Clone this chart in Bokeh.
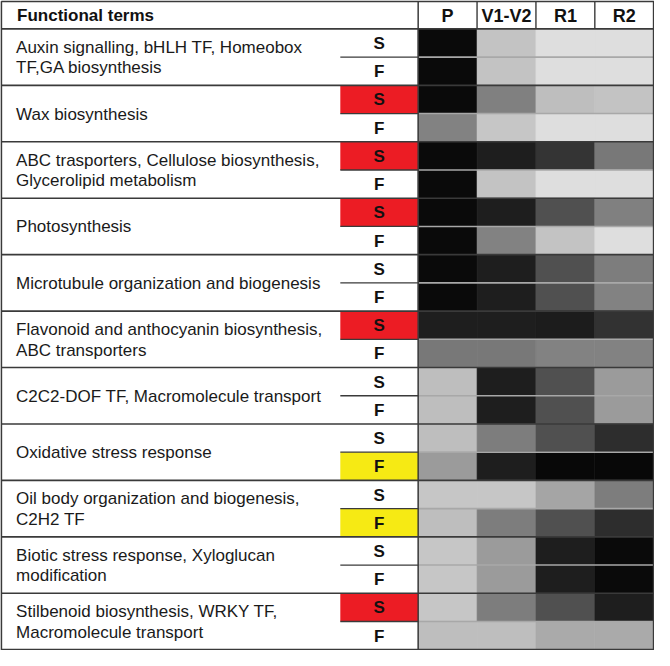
from bokeh.plotting import figure
from bokeh.models import ColumnDataSource, LinearColorMapper, Range1d
from bokeh.core.properties import value
from bokeh.embed import file_html
from bokeh.resources import INLINE

# ---------------- data ----------------
terms = [
    "Auxin signalling, bHLH TF, Homeobox\nTF,GA biosynthesis",
    "Wax biosynthesis",
    "ABC trasporters, Cellulose biosynthesis,\nGlycerolipid metabolism",
    "Photosynthesis",
    "Microtubule organization and biogenesis",
    "Flavonoid and anthocyanin biosynthesis,\nABC transporters",
    "C2C2-DOF TF, Macromolecule transport",
    "Oxidative stress response",
    "Oil body organization and biogenesis,\nC2H2 TF",
    "Biotic stress response, Xyloglucan\nmodification",
    "Stilbenoid biosynthesis, WRKY TF,\nMacromolecule transport",
]
stages = ["P", "V1-V2", "R1", "R2"]
tissues = ["S", "F"]
header_title = "Functional terms"

# highlight of the S / F label cells
s_mark = ["none", "red", "red", "red", "none", "red", "none", "none", "none", "none", "red"]
f_mark = ["none", "none", "none", "none", "none", "none", "none", "yellow", "yellow", "none", "none"]

# grey level of each cell (0 = black, 255 = white)
S_P  = [10, 10, 10, 10, 10, 30, 190, 190, 198, 198, 198]
S_V  = [195, 128, 30, 30, 30, 30, 30, 125, 198, 155, 125]
S_R1 = [222, 190, 52, 80, 80, 28, 80, 80, 165, 30, 80]
S_R2 = [222, 195, 120, 128, 125, 50, 155, 45, 125, 10, 30]
F_P  = [10, 130, 10, 10, 10, 120, 190, 155, 190, 198, 190]
F_V  = [195, 198, 195, 130, 30, 120, 30, 30, 125, 155, 190]
F_R1 = [222, 222, 222, 195, 80, 130, 80, 8, 80, 30, 170]
F_R2 = [222, 222, 222, 222, 130, 130, 155, 8, 45, 10, 170]

S_vals = [S_P, S_V, S_R1, S_R2]
F_vals = [F_P, F_V, F_R1, F_R2]

# ---------------- layout (reference pixel units) ----------------
X_LEFT, X_SF, X_HEAT, X_RIGHT = 3.0, 347.0, 426.0, 665.0
Y_TOP, Y_HEAD = 4.0, 32.0
N = len(terms)
GROUP_H = 57.2
COL_W = (X_RIGHT - X_HEAT) / len(stages)
Y_BOT = Y_HEAD + N * GROUP_H
FONT = value("Liberation Sans")
LINE = "#3a3a3a"
mark_colors = {"none": "#ffffff", "red": "#ec1c24", "yellow": "#f6ea14"}

p = figure(width=654, height=650, output_backend="svg", toolbar_location=None,
           x_range=Range1d(X_LEFT - 0.8, X_RIGHT + 0.8),
           y_range=Range1d(Y_BOT + 0.8, Y_TOP - 0.8),
           min_border=0, min_border_left=0, min_border_right=0,
           min_border_top=0, min_border_bottom=0)
p.axis.visible = False
p.grid.visible = False
p.outline_line_color = None
p.background_fill_color = "white"
p.border_fill_color = "white"

# ---- heatmap cells ----
left, right, top, bottom, v = [], [], [], [], []
for g in range(N):
    gt = Y_HEAD + g * GROUP_H
    for t, vals in enumerate([S_vals, F_vals]):
        for j in range(len(stages)):
            left.append(X_HEAT + j * COL_W)
            right.append(X_HEAT + (j + 1) * COL_W)
            top.append(gt + t * GROUP_H / 2)
            bottom.append(gt + (t + 1) * GROUP_H / 2)
            v.append(vals[j][g])
greys = ["#%02x%02x%02x" % (i, i, i) for i in range(256)]
mapper = LinearColorMapper(palette=greys, low=0, high=255)
src = ColumnDataSource(dict(left=left, right=right, top=top, bottom=bottom, v=v))
p.quad(left="left", right="right", top="top", bottom="bottom", source=src,
       fill_color={"field": "v", "transform": mapper},
       line_color={"field": "v", "transform": mapper}, line_width=0.6)

# ---- S / F label cells ----
ml, mr, mt, mb, mc = [], [], [], [], []
for g in range(N):
    gt = Y_HEAD + g * GROUP_H
    for t, marks in enumerate([s_mark, f_mark]):
        if marks[g] != "none":
            ml.append(X_SF); mr.append(X_HEAT)
            mt.append(gt + t * GROUP_H / 2); mb.append(gt + (t + 1) * GROUP_H / 2)
            mc.append(mark_colors[marks[g]])
p.quad(left=ml, right=mr, top=mt, bottom=mb, fill_color=mc, line_color=None)

# ---- lines ----
xs, ys = [], []
for g in range(N):
    ym = Y_HEAD + g * GROUP_H + GROUP_H / 2
    xs.append([X_HEAT, X_RIGHT]); ys.append([ym, ym])
p.multi_line(xs, ys, line_color="#a8a8a8", line_width=1.6)
xs, ys = [], []
for g in range(N):
    ym = Y_HEAD + g * GROUP_H + GROUP_H / 2
    xs.append([X_SF, X_HEAT]); ys.append([ym, ym])
p.multi_line(xs, ys, line_color=LINE, line_width=1.3)
xs, ys = [], []
for g in range(N + 1):
    yy = Y_HEAD + g * GROUP_H
    xs.append([X_LEFT, X_RIGHT]); ys.append([yy, yy])
p.multi_line(xs, ys, line_color=LINE, line_width=1.6)
xs, ys = [], []
for j in range(1, len(stages)):
    xx = X_HEAT + j * COL_W
    xs.append([xx, xx]); ys.append([Y_TOP, Y_HEAD])
p.multi_line(xs, ys, line_color=LINE, line_width=1.4)
p.line([X_HEAT, X_HEAT], [Y_TOP, Y_BOT], line_color=LINE, line_width=1.5)
p.line([X_LEFT, X_RIGHT, X_RIGHT, X_LEFT, X_LEFT], [Y_TOP, Y_TOP, Y_BOT, Y_BOT, Y_TOP],
       line_color=LINE, line_width=1.8)

# ---- texts ----
p.text(x=[19], y=[(Y_TOP + Y_HEAD) / 2 + 0.5], text=[header_title], text_font=FONT,
       text_font_size="17px", text_font_style="bold", text_baseline="middle",
       text_align="left", text_color="#111111")
p.text(x=[X_HEAT + (j + 0.5) * COL_W for j in range(len(stages))],
       y=[(Y_TOP + Y_HEAD) / 2 + 0.5] * len(stages), text=stages, text_font=FONT,
       text_font_size="18px", text_font_style="bold", text_baseline="middle",
       text_align="center", text_color="#111111")

tx, ty, tt = [], [], []
for g, term in enumerate(terms):
    lines = term.split("\n")
    gc = Y_HEAD + g * GROUP_H + GROUP_H / 2
    n = len(lines)
    for k, ln in enumerate(lines):
        tx.append(18); ty.append(gc + (k - (n - 1) / 2) * 21 + 0.5); tt.append(ln)
p.text(x=tx, y=ty, text=tt, text_font=FONT, text_font_size="17px",
       text_baseline="middle", text_align="left", text_color="#1a1a1a")

sx, sy, st = [], [], []
for g in range(N):
    for t, lab in enumerate(tissues):
        sx.append((X_SF + X_HEAT) / 2)
        sy.append(Y_HEAD + g * GROUP_H + (t + 0.5) * GROUP_H / 2 + 0.5)
        st.append(lab)
p.text(x=sx, y=sy, text=st, text_font=FONT, text_font_size="17px",
       text_font_style="bold", text_baseline="middle", text_align="center",
       text_color="#111111")

open("out.html", "w").write(file_html(p, INLINE))
